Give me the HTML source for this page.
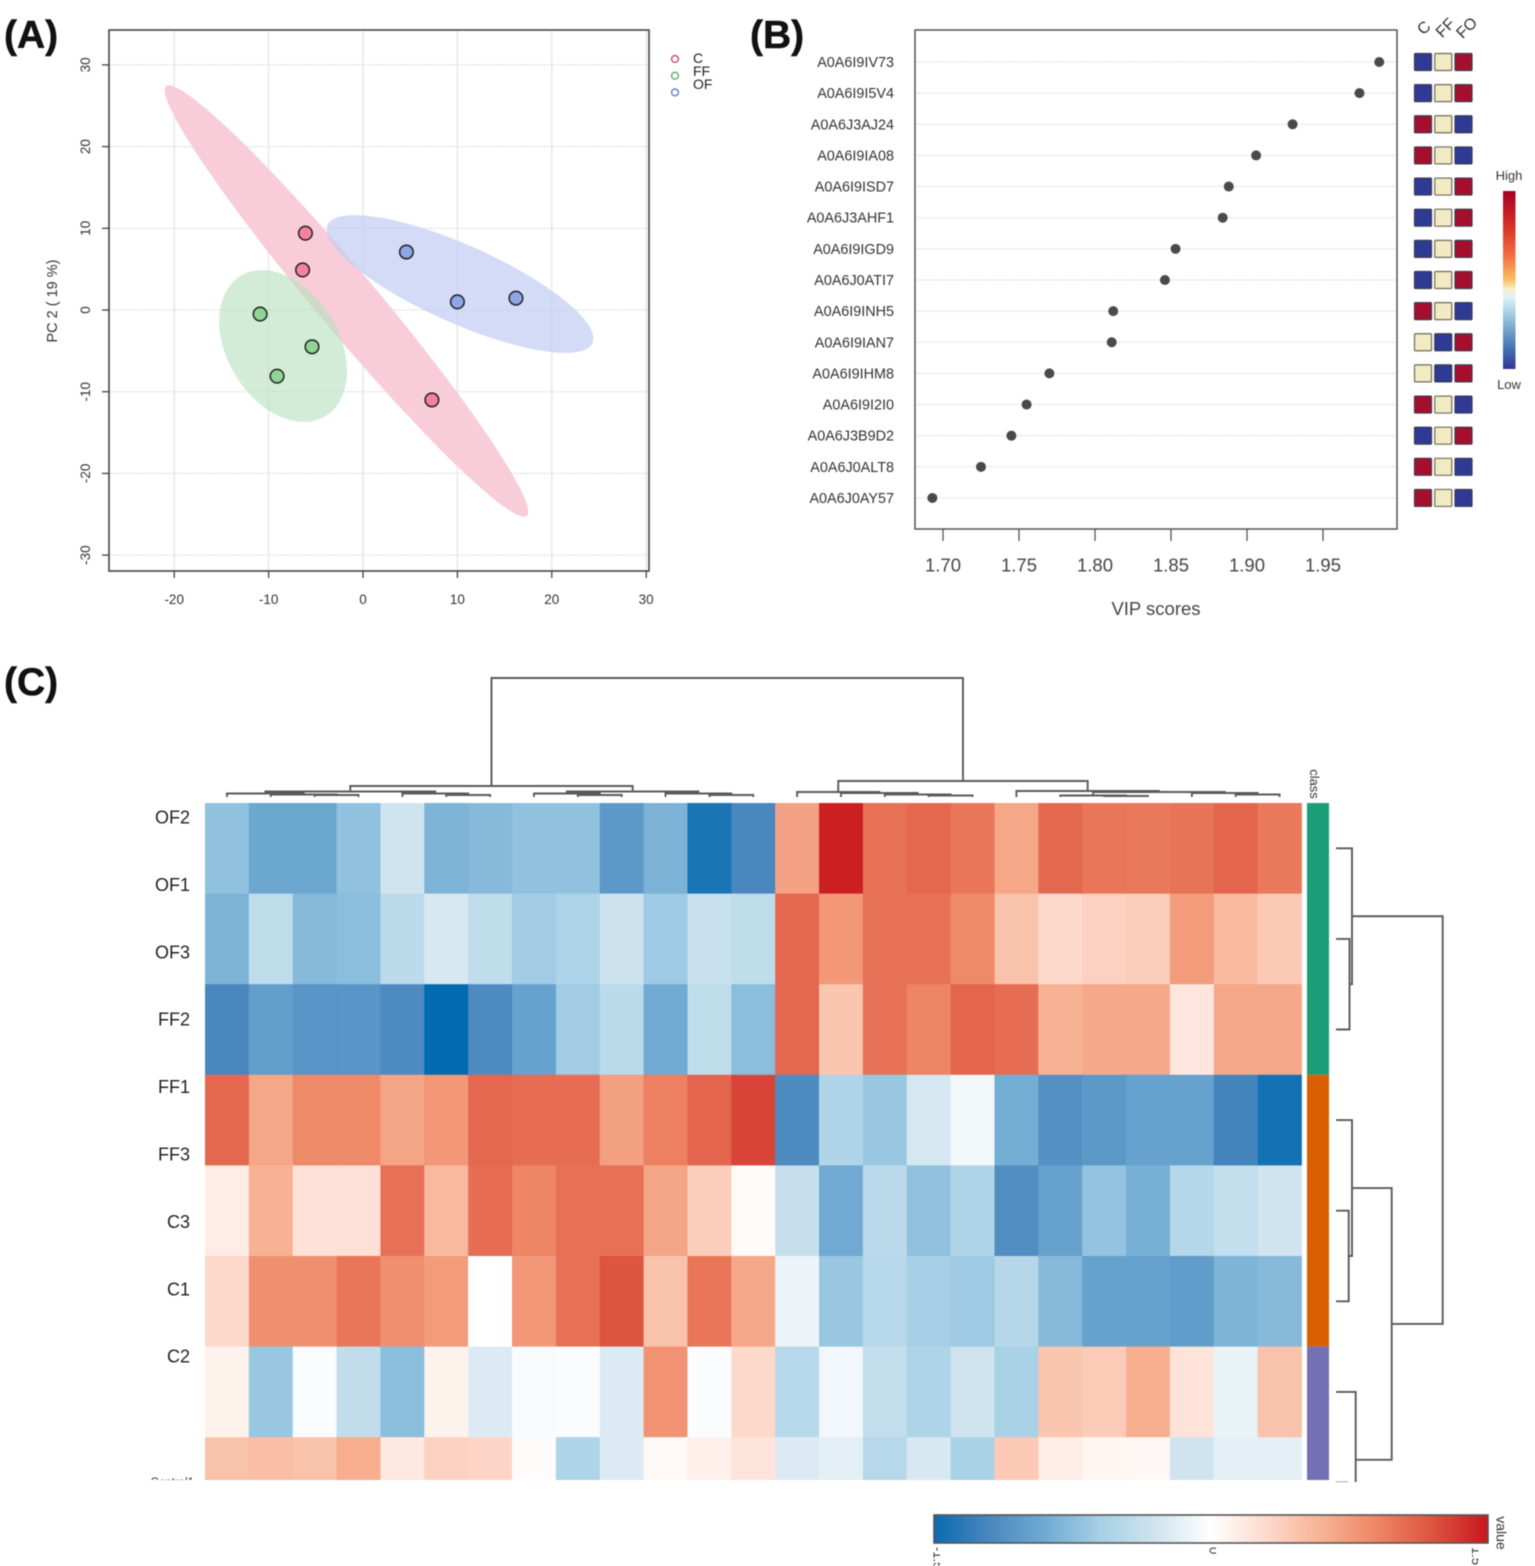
<!DOCTYPE html>
<html lang="en">
<head>
<meta charset="utf-8">
<title>PCA, VIP scores and heatmap</title>
<style>
  html, body { margin: 0; padding: 0; background: #fff; }
  body { width: 1535px; height: 1566px; overflow: hidden; }
  svg { position: absolute; left: 0; top: 0; font-family: "Liberation Sans", sans-serif; filter: blur(0.45px); }
  .panel-letter { font-size: 39px; font-weight: bold; fill: #111; stroke: #111; stroke-width: 0.5px; }
</style>
</head>
<body>
<svg id="fig" xmlns="http://www.w3.org/2000/svg" width="1535" height="1566" viewBox="0 0 1535 1566">
  <defs>
    <clipPath id="heat-clip"><rect x="200" y="800" width="1140" height="680"></rect></clipPath>
    <clipPath id="rowtree-clip"><rect x="1330" y="800" width="130" height="682"></rect></clipPath>
    <clipPath id="label-clip"><rect x="130" y="1460" width="70" height="20"></rect></clipPath>
    <clipPath id="cbar-label-clip"><rect x="920" y="1544" width="600" height="14"></rect></clipPath>
    <linearGradient id="vip-gradient" x1="0" y1="0" x2="0" y2="1">
      <stop offset="0" stop-color="#a50026"></stop>
      <stop offset="0.2" stop-color="#d73027"></stop>
      <stop offset="0.36" stop-color="#f46d43"></stop>
      <stop offset="0.5" stop-color="#fdbe62"></stop>
      <stop offset="0.55" stop-color="#f6efc8"></stop>
      <stop offset="0.6" stop-color="#dff2f6"></stop>
      <stop offset="0.72" stop-color="#91bfdb"></stop>
      <stop offset="0.88" stop-color="#4575b4"></stop>
      <stop offset="1" stop-color="#313695"></stop>
    </linearGradient>
    <linearGradient id="value-gradient" x1="0" y1="0" x2="1" y2="0">
      <stop offset="0" stop-color="#0a6bb0"></stop>
      <stop offset="0.1" stop-color="#4a87be"></stop>
      <stop offset="0.2" stop-color="#70aad2"></stop>
      <stop offset="0.3" stop-color="#a6d0e6"></stop>
      <stop offset="0.4" stop-color="#d0e4ef"></stop>
      <stop offset="0.5" stop-color="#ffffff"></stop>
      <stop offset="0.6" stop-color="#fdd9cc"></stop>
      <stop offset="0.7" stop-color="#f7b294"></stop>
      <stop offset="0.8" stop-color="#ee8564"></stop>
      <stop offset="0.9" stop-color="#dd5441"></stop>
      <stop offset="1" stop-color="#c8161d"></stop>
    </linearGradient>
  </defs>

  <text class="panel-letter" x="4" y="48">(A)</text>
  <text class="panel-letter" x="750" y="48">(B)</text>
  <text class="panel-letter" x="4" y="695">(C)</text>

  <g id="panel-a"></g>
  <g id="panel-b"></g>
  <g id="panel-c"></g>
</svg>

<script>
/* ---------- Panel A data ---------- */
const pcaTicksX = [-20, -10, 0, 10, 20, 30];
const pcaTicksY = [-30, -20, -10, 0, 10, 20, 30];
const pcaGroups = ['C', 'FF', 'OF'];
const pcaScoresX = [[-6.1, -6.4, 7.3], [-10.9, -5.4, -9.1], [4.6, 10.0, 16.2]];
const pcaScoresY = [[9.4, 4.9, -11.0], [-0.5, -4.5, -8.1], [7.1, 1.0, 1.45]];
/* confidence ellipses: centre, major semi-axis vector, minor semi-axis vector (data units) */
const ellipseCentres = [[-1.75, 1.1], [-8.47, -4.41], [10.28, 3.18]];
const ellipseMajor = [[19.1, -26.3], [4.49, -8.59], [14.03, -7.22]];
const ellipseMinor = [[2.44, 2.36], [5.07, 3.54], [1.68, 4.36]];

/* ---------- Panel B data ---------- */
const vipProteins = ['A0A6I9IV73', 'A0A6I9I5V4', 'A0A6J3AJ24', 'A0A6I9IA08', 'A0A6I9ISD7', 'A0A6J3AHF1', 'A0A6I9IGD9', 'A0A6J0ATI7', 'A0A6I9INH5', 'A0A6I9IAN7', 'A0A6I9IHM8', 'A0A6I9I2I0', 'A0A6J3B9D2', 'A0A6J0ALT8', 'A0A6J0AY57'];
const vipScores = [1.987, 1.974, 1.930, 1.906, 1.888, 1.884, 1.853, 1.846, 1.812, 1.811, 1.770, 1.755, 1.745, 1.725, 1.693];
const vipTicks = [1.70, 1.75, 1.80, 1.85, 1.90, 1.95];
const vipConditions = ['C', 'FF', 'FO'];
const vipLevels = [
  [-1, 0, 1], [-1, 0, 1], [1, 0, -1], [1, 0, -1], [-1, 0, 1],
  [-1, 0, 1], [-1, 0, 1], [-1, 0, 1], [1, 0, -1], [0, -1, 1],
  [0, -1, 1], [1, 0, -1], [-1, 0, 1], [1, 0, -1], [1, 0, -1]
];

/* ---------- Panel C data ---------- */
const heatRowLabels = ['OF2', 'OF1', 'OF3', 'FF2', 'FF1', 'FF3', 'C3', 'C1', 'C2'];
const heatValues = [
  [-.48,-.62,-.62,-.48,-.2,-.55,-.52,-.48,-.48,-.70,-.56,-.93,-.80, .47,.97,.68,.72,.66,.45,.72,.66,.65,.67,.73,.65],
  [-.55,-.28,-.52,-.5,-.3,-.17,-.28,-.42,-.36,-.22,-.43,-.24,-.28, .72,.52,.68,.68,.58,.32,.20,.24,.26,.50,.36,.28],
  [-.80,-.67,-.72,-.72,-.78,-1,-.78,-.65,-.42,-.3,-.6,-.28,-.5, .72,.3,.68,.6,.73,.7,.4,.44,.44,.13,.45,.45],
  [.72,.45,.58,.58,.46,.52,.72,.70,.70,.48,.62,.73,.85, -.78,-.35,-.45,-.18,-.05,-.58,-.75,-.70,-.65,-.65,-.82,-.95],
  [.1,.4,.16,.16,.68,.36,.7,.6,.68,.68,.46,.26,.02, -.25,-.6,-.3,-.48,-.35,-.76,-.65,-.47,-.57,-.33,-.26,-.2],
  [.2,.55,.55,.66,.55,.5,0,.52,.68,.8,.32,.66,.45, -.08,-.45,-.32,-.4,-.43,-.33,-.52,-.65,-.65,-.68,-.55,-.52],
  [.07,-.45,-.02,-.27,-.5,.07,-.15,-.03,-.02,-.15,.54,-.02,.2, -.32,-.06,-.26,-.36,-.2,-.38,.3,.27,.42,.15,-.1,.32],
  [.32,.34,.32,.42,.12,.24,.22,.02,-.36,-.15,.03,.08,.14, -.15,-.12,-.32,-.17,-.38,.28,.1,.05,.04,-.2,-.12,-.12]
];
const classBandNames = ['class-a', 'class-b', 'class-c'];
const classBandRows = [3, 3, 2];
/* dendrograms: [merge height, left child, right child]; numbers are leaves */
const columnTree = [119,
  [11,
    [5.5, [3.5, 0, [2.5, 1, [2, 2, 3]]], [3.5, 4, [2, 5, 6]]],
    [5.5, [3.5, 7, [2, 8, 9]], [3.5, 10, [2, 11, 12]]]],
  [16,
    [5, 13, [4, 14, [2.5, 15, [1.5, 16, 17]]]],
    [6, 18, [5, [1.5, 19, [1, 20, 21]], [4, 22, [2.5, 23, 24]]]]]
];
const rowTree = [106.7,
  [16, 0, [13.5, 1, 2]],
  [55.7, [16, 3, [12.7, 4, 5]], [19.7, 6, [11, 7, 8]]]
];
const valueTicks = [-1.5, 0, 1.5];

/* ---------- helpers ---------- */
const NS = 'http://www.w3.org/2000/svg';
function make(parent, tag, geom, text) {
  const el = document.createElementNS(NS, tag);
  for (const k in geom) el.setAttribute(k, geom[k]);
  if (text !== undefined) el.textContent = text;
  parent.appendChild(el);
  return el;
}

/* ---------- Panel A ---------- */
const A = document.getElementById('panel-a');
const ax = v => 363 + v * 9.44;
const ay = v => 310 - v * 8.17;
const groupFill = ['#f8ccd8', '#b6e0bd', '#c4cdf2'];
const groupOpacity = [1, 0.6, 0.72];
const groupDot = ['#f3829f', '#8ed598', '#8ea6e6'];
const groupRing = ['#cf4f74', '#64b376', '#6f80cc'];

pcaTicksX.forEach(t => {
  const g = make(A, 'line', {x1: ax(t), x2: ax(t), y1: 30, y2: 571, stroke: '#e8e8e8', 'stroke-width': 1.5});
  
  
});
pcaTicksY.forEach(t => {
  const g = make(A, 'line', {x1: 109, x2: 649, y1: ay(t), y2: ay(t), stroke: '#e0e0e0', 'stroke-width': 1.2, 'stroke-dasharray': '2 1'});
  
  
});
ellipseCentres.forEach((c, i) => {
  let d = '';
  for (let k = 0; k < 96; k++) {
    const t = k / 96 * 2 * Math.PI;
    const dx = c[0] + Math.cos(t) * ellipseMajor[i][0] + Math.sin(t) * ellipseMinor[i][0];
    const dy = c[1] + Math.cos(t) * ellipseMajor[i][1] + Math.sin(t) * ellipseMinor[i][1];
    d += (k ? 'L' : 'M') + ax(dx).toFixed(1) + ' ' + ay(dy).toFixed(1);
  }
  const e = make(A, 'path', {d: d + 'Z', fill: groupFill[i], 'fill-opacity': groupOpacity[i]});
  
  
});
pcaScoresX.forEach((xs, i) => xs.forEach((x, j) => {
  const p = make(A, 'circle', {cx: ax(x), cy: ay(pcaScoresY[i][j]), r: 6.8, fill: groupDot[i], stroke: '#222', 'stroke-width': 1.5});
  
  
}));
const aFrame = make(A, 'rect', {x: 109, y: 30, width: 540, height: 541, fill: 'none', stroke: '#444', 'stroke-width': 1.6});


pcaTicksX.forEach(t => {
  const m = make(A, 'line', {x1: ax(t), x2: ax(t), y1: 571, y2: 578, stroke: '#444', 'stroke-width': 1.3});
  
  
  const l = make(A, 'text', {x: ax(t), y: 604, 'text-anchor': 'middle', 'font-size': 13.5, fill: '#333'}, String(t));
  
  
});
pcaTicksY.forEach(t => {
  const m = make(A, 'line', {x1: 102, x2: 109, y1: ay(t), y2: ay(t), stroke: '#444', 'stroke-width': 1.3});
  
  
  const l = make(A, 'text', {x: 90, y: ay(t), 'text-anchor': 'middle', 'font-size': 13.5, fill: '#333', transform: 'rotate(-90 90 ' + ay(t) + ')'}, String(t));
  
  
});
const aTitle = make(A, 'text', {x: 57, y: 301, 'text-anchor': 'middle', 'font-size': 14.5, fill: '#333', transform: 'rotate(-90 57 301)'}, 'PC 2 ( 19 %)');


pcaGroups.forEach((g, i) => {
  const dot = make(A, 'circle', {cx: 675, cy: 59 + i * 16.7, r: 3.4, fill: 'none', stroke: groupRing[i], 'stroke-width': 1.5});
  
  
  const tx = make(A, 'text', {x: 693, y: 63 + i * 12.9, 'font-size': 14, fill: '#222'}, g);
  
  
});

/* ---------- Panel B ---------- */
const B = document.getElementById('panel-b');
const bx = v => 943 + (v - 1.70) * 1520;
const by = i => 62 + i * 31.14;
const levelFill = l => (l < 0 ? '#2f3a94' : l > 0 ? '#a50f2d' : '#f2eac2');
const levelStroke = l => (l === 0 ? '#6f6a58' : '#3c3c50');
const tileCentres = i => 1423 + i * 20.25;

vipProteins.forEach((name, i) => {
  const g = make(B, 'line', {x1: 915, x2: 1397, y1: by(i), y2: by(i), stroke: '#e2e2e2', 'stroke-width': 1.2, 'stroke-dasharray': '2 1'});
  
  
  const l = make(B, 'text', {x: 894, y: by(i) + 5, 'text-anchor': 'end', 'font-size': 14.4, fill: '#333'}, name);
  
  
  const p = make(B, 'circle', {cx: bx(vipScores[i]), cy: by(i), r: 5, fill: '#4a4a4a'});
  
  
  vipLevels[i].forEach((lv, c) => {
    const t = make(B, 'rect', {x: tileCentres(c) - 8.5, y: by(i) - 8.5, width: 17, height: 17, rx: 1, fill: levelFill(lv), stroke: levelStroke(lv), 'stroke-width': 1.2});
    
    
  });
});
const bFrame = make(B, 'rect', {x: 915, y: 30, width: 482, height: 499, fill: 'none', stroke: '#555', 'stroke-width': 1.5});


vipTicks.forEach(t => {
  const m = make(B, 'line', {x1: bx(t), x2: bx(t), y1: 529, y2: 541, stroke: '#555', 'stroke-width': 1.3});
  
  
  const l = make(B, 'text', {x: bx(t), y: 571.5, 'text-anchor': 'middle', 'font-size': 18.5, fill: '#444'}, t.toFixed(2));
  
  
});
const bTitle = make(B, 'text', {x: 1156, y: 615, 'text-anchor': 'middle', 'font-size': 18.5, fill: '#444'}, 'VIP scores');


vipConditions.forEach((c, i) => {
  const px = tileCentres(i) + 1 + i * 1.2;
  const t = make(B, 'text', {x: px, y: 33, 'text-anchor': 'middle', 'font-size': 16, fill: '#333', transform: 'rotate(-45 ' + px + ' 28)'}, c);
  
  
});
const vipBar = make(B, 'rect', {x: 1503, y: 191, width: 12.5, height: 178, fill: 'url(#vip-gradient)'});


const highLbl = make(B, 'text', {x: 1509, y: 180, 'text-anchor': 'middle', 'font-size': 13, fill: '#333'}, 'High');


const lowLbl = make(B, 'text', {x: 1509, y: 389, 'text-anchor': 'middle', 'font-size': 13, fill: '#333'}, 'Low');



/* ---------- Panel C ---------- */
const C = document.getElementById('panel-c');
const colW = 43.86, rowH = 90.6, heatX = 205, heatY = 803;
const cx = i => heatX + colW * i;
const cy = i => heatY + rowH * i;
const ramp = [[0,107,176],[74,135,190],[112,170,210],[166,208,230],[208,228,239],[255,255,255],[253,217,204],[247,178,148],[238,133,100],[221,84,65],[200,22,29]];
function valueColor(v) {
  const p = Math.max(0, Math.min(9.9999, (v + 1) * 5));
  const i = Math.floor(p), f = p - i;
  const m = ramp[i].map((c, k) => Math.round(c + (ramp[i + 1][k] - c) * f));
  return 'rgb(' + m.join(',') + ')';
}
const heatGroup = make(C, 'g', {'clip-path': 'url(#heat-clip)'});


heatValues.forEach((row, r) => row.forEach((v, c) => {
  const cell = make(heatGroup, 'rect', {x: cx(c), y: cy(r), width: colW + 0.4, height: rowH + 0.4, fill: valueColor(v)});
  
  
}));
heatRowLabels.forEach((name, i) => {
  const l = make(C, 'text', {x: 190, y: 823.5 + i * 67.4, 'text-anchor': 'end', 'font-size': 18, fill: '#222'}, name);
  
  
});
const clippedLabel = make(C, 'text', {x: 194, y: 1486, 'text-anchor': 'end', 'font-size': 11.5, fill: '#333', 'clip-path': 'url(#label-clip)'}, 'Control1');



let bandStart = 0;
const bandColors = ['#1b9e77', '#d95f02', '#7570b3'];
classBandRows.forEach((n, i) => {
  const b = make(heatGroup, 'rect', {x: 1307, y: cy(bandStart), width: 22, height: n * rowH, fill: bandColors[i]});
  
  
  bandStart += n;
});
const classLbl = make(C, 'text', {x: 1310, y: 784, 'text-anchor': 'middle', 'font-size': 13, fill: '#333', transform: 'rotate(90 1310 784)'}, 'class');



function drawTree(node, parent, toPoint, leafPos, name) {
  if (typeof node === 'number') return {pos: leafPos(node), h: 0};
  const a = drawTree(node[1], parent, toPoint, leafPos, name);
  const b = drawTree(node[2], parent, toPoint, leafPos, name);
  const h = node[0], pos = (a.pos + b.pos) / 2;
  const pts = [toPoint(a.pos, a.h), toPoint(a.pos, h), toPoint(b.pos, h), toPoint(b.pos, b.h)];
  const link = make(parent, 'polyline', {points: pts.map(q => q.join(',')).join(' '), fill: 'none', stroke: '#5a5a5a', 'stroke-width': 1.9});
  
  
  return {pos: pos, h: h};
}
const colTreeG = make(C, 'g', {});


drawTree(columnTree, colTreeG, (p, h) => [p, 797 - h], i => cx(i + 0.5), 'column-dendrogram-link');
const rowTreeG = make(C, 'g', {'clip-path': 'url(#rowtree-clip)'});


drawTree(rowTree, rowTreeG, (p, h) => [1336 + h, p], i => cy(i + 0.5), 'row-dendrogram-link');

const cbar = make(C, 'rect', {x: 934, y: 1515, width: 554, height: 28, fill: 'url(#value-gradient)', stroke: '#555', 'stroke-width': 1.6});


const vx = v => 1213 + v * (v < 0 ? 184 : 175);
const vy = 1547;
valueTicks.forEach(t => {
  const px = vx(t);
  const l = make(C, 'text', {x: px, y: vy, 'font-size': 13, fill: '#333', 'clip-path': 'url(#cbar-label-clip)', transform: 'rotate(90 ' + px + ' ' + vy + ')', 'dominant-baseline': 'middle'}, String(t));
  
  
});
const valTitle = make(C, 'text', {x: 1500, y: 1533, 'text-anchor': 'middle', 'font-size': 14, fill: '#333', transform: 'rotate(90 1500 1533)', 'dominant-baseline': 'middle'}, 'value');


</script>
</body>
</html>
